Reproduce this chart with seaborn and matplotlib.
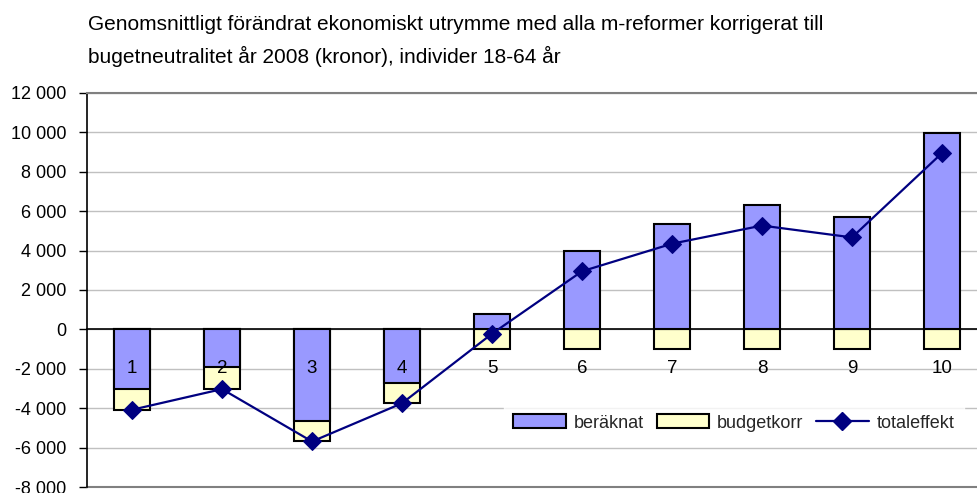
import numpy as np
import pandas as pd
import matplotlib
matplotlib.use("Agg")
import matplotlib.pyplot as plt
import seaborn as sns
from matplotlib.patches import Patch
from matplotlib.lines import Line2D
from matplotlib.ticker import FixedLocator

categories = ["1", "2", "3", "4", "5", "6", "7", "8", "9", "10"]
beraknat = [-3050, -1900, -4650, -2720, 800, 3970, 5370, 6290, 5690, 9970]
budgetkorr = [-1030, -1130, -1040, -1030, -1020, -1020, -1020, -1020, -1020, -1020]
totaleffekt = [-4080, -3030, -5690, -3750, -220, 2950, 4350, 5270, 4670, 8950]
ytick_values = [-8000, -6000, -4000, -2000, 0, 2000, 4000, 6000, 8000, 10000, 12000]
ytick_labels = ["-8 000", "-6 000", "-4 000", "-2 000", "0", "2 000", "4 000",
                "6 000", "8 000", "10 000", "12 000"]
title_lines = ["Genomsnittligt förändrat ekonomiskt utrymme med alla m-reformer korrigerat till",
               "bugetneutralitet år 2008 (kronor), individer 18-64 år"]
series_names = ["beräknat", "budgetkorr", "totaleffekt"]

sns.set_theme(style="white")
plt.rcParams["font.family"] = ["Liberation Sans", "DejaVu Sans"]

c_ber = "#9999FF"
c_bud = "#FFFFCC"
c_tot = "#000080"

ber = np.array(beraknat)
bud = np.array(budgetkorr)
# Excel-style stacking: negative budgetkorr stacks below negative beräknat
lower = np.where(ber < 0, ber + bud, bud)

df = pd.DataFrame({"cat": categories, "ber": ber, "lower": lower, "tot": totaleffekt})

fig = plt.figure(figsize=(9.78, 4.93), dpi=100)
ax = fig.add_axes([87 / 978, 1 - 487 / 493, 1 - 87 / 978, (487 - 93) / 493])

sns.barplot(data=df, x="cat", y="lower", color=c_bud, saturation=1, width=0.4,
            edgecolor="black", linewidth=1.5, errorbar=None, ax=ax, zorder=3)
sns.barplot(data=df, x="cat", y="ber", color=c_ber, saturation=1, width=0.4,
            edgecolor="black", linewidth=1.5, errorbar=None, ax=ax, zorder=4)
sns.lineplot(x=np.arange(len(categories)), y=totaleffekt, color=c_tot, marker="D",
             markersize=9, markeredgecolor=c_tot, linewidth=1.6, ax=ax, zorder=5)

ax.set_ylim(ytick_values[0], ytick_values[-1])
ax.set_xlim(-0.5, len(categories) - 0.5 - 0.1)
ax.set_yticks(ytick_values)
ax.set_yticklabels(ytick_labels)
ax.set_xticks(range(len(categories)))
ax.set_xticklabels(categories)
ax.xaxis.set_minor_locator(FixedLocator(np.arange(len(categories)) + 0.5))
ax.tick_params(axis="x", which="major", length=0, pad=22, labelsize=13.5, labelcolor="black")
ax.tick_params(axis="x", which="minor", length=6, width=1, color="black", direction="out")
ax.tick_params(axis="y", length=6, width=1, color="black", direction="out", pad=9, left=True,
               labelsize=13, labelcolor="black")
ax.set_xlabel("")
ax.set_ylabel("")

ax.grid(axis="y", color="#C0C0C0", linewidth=1)
ax.set_axisbelow(True)
ax.xaxis.set_zorder(6)
ax.spines["bottom"].set_position(("data", 0))
ax.spines["bottom"].set_color("black")
ax.spines["bottom"].set_linewidth(1.2)
ax.spines["bottom"].set_zorder(4.5)
ax.spines["left"].set_color("black")
ax.spines["left"].set_linewidth(1.2)
ax.spines["top"].set_color("#808080")
ax.spines["top"].set_linewidth(1.5)
ax.spines["right"].set_visible(False)
ax.axhline(ytick_values[0], color="#808080", linewidth=1.5, zorder=1, clip_on=False)

handles = [Patch(facecolor=c_ber, edgecolor="black", linewidth=1.5),
           Patch(facecolor=c_bud, edgecolor="black", linewidth=1.5),
           Line2D([], [], color=c_tot, marker="D", markersize=9, linewidth=1.6)]
leg = ax.legend(handles, series_names, loc="center", bbox_to_anchor=(734 / 978, 1 - 423 / 493),
                bbox_transform=fig.transFigure, ncol=3, frameon=True, fontsize=13,
                handlelength=2.9, handleheight=0.8, handletextpad=0.45, columnspacing=0.7,
                borderpad=0.5, fancybox=False)
leg.get_frame().set_edgecolor("white")
leg.get_frame().set_facecolor("white")
leg.set_zorder(7)

for line, base_y in zip(title_lines, [30, 63]):
    fig.text(88 / 978, 1 - base_y / 493, line, ha="left", va="baseline", fontsize=15,
             color="black")

fig.savefig("out.png", dpi=100)
